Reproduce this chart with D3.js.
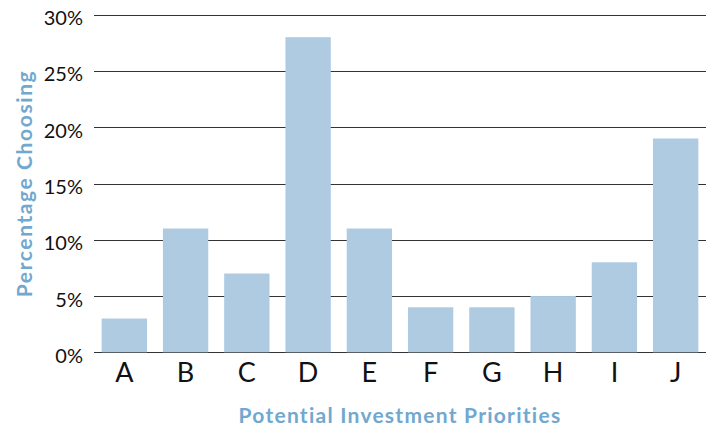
<!DOCTYPE html>
<html>
<head>
<meta charset="utf-8">
<script src="https://cdn.jsdelivr.net/npm/d3@7"></script>
<style>
	body { margin: 0; background: #fff; }
	text { font-family: Lato, "Open Sans", sans-serif; }
</style>
</head>
<body>
<div id="chart"></div>
<script>
var categories = ["A", "B", "C", "D", "E", "F", "G", "H", "I", "J"];
var percentages = [3, 11, 7, 28, 11, 4, 4, 5, 8, 19];
var tickValues = [0, 5, 10, 15, 20, 25, 30];

var width = 709,
	height = 426;

var margin = { top: 15, right: 3, bottom: 74, left: 94 };

var svg = d3.select("#chart")
	.append("svg")
	.attr("width", width)
	.attr("height", height);

var x = d3.scaleBand()
	.domain(categories)
	.range([margin.left, width - margin.right])
	.paddingInner(0.26)
	.paddingOuter(0.125);

var y = d3.scaleLinear()
	.domain([0, 30])
	.range([height - margin.bottom + 0.3, margin.top - 0.3]);

// gridlines
svg.append("g")
	.attr("class", "grid")
	.selectAll("line")
	.data(tickValues)
	.enter()
	.append("line")
	.attr("x1", margin.left)
	.attr("x2", width - margin.right)
	.attr("y1", (d) => Math.round(y(d)) + 0.5)
	.attr("y2", (d) => Math.round(y(d)) + 0.5)
	.attr("stroke", "#333")
	.attr("stroke-width", 1.2);

// y tick labels
var yAxis = svg.append("g")
	.attr("transform", "translate(" + (margin.left - 11) + ",0)")
	.call(d3.axisLeft(y).tickValues(tickValues).tickSize(0).tickFormat((d) => d + "%"));

yAxis.select(".domain").remove();
yAxis.selectAll("text")
	.attr("x", 0)
	.attr("dy", "0.5em")
	.style("font-size", "20px")
	.style("font-family", "Lato, sans-serif")
	.attr("fill", "#111");

// bars
svg.append("g")
	.attr("class", "bars")
	.selectAll(".bar")
	.data(percentages)
	.enter()
	.append("rect")
	.attr("class", "bar")
	.attr("x", (d, i) => x(categories[i]))
	.attr("y", (d) => y(d))
	.attr("width", x.bandwidth())
	.attr("height", (d) => y(0) - y(d))
	.attr("fill", "#aecbe2");

// x category labels
var xAxis = svg.append("g")
	.attr("transform", "translate(0," + y(0) + ")")
	.call(d3.axisBottom(x).tickSize(0));

xAxis.select(".domain").remove();
xAxis.selectAll("text")
	.attr("y", 11)
	.attr("dy", "0.71em")
	.style("font-size", "27px")
	.style("font-family", "Lato, sans-serif")
	.attr("fill", "#111");

// axis titles
svg.append("text")
	.attr("x", (margin.left + width - margin.right) / 2)
	.attr("y", 423)
	.attr("text-anchor", "middle")
	.attr("fill", "#71a8cf")
	.style("font-size", "21px")
	.style("font-weight", "bold")
	.style("letter-spacing", "1.25px")
	.text("Potential Investment Priorities");

svg.append("text")
	.attr("transform", "translate(32," + ((margin.top + height - margin.bottom) / 2) + ") rotate(-90)")
	.attr("text-anchor", "middle")
	.attr("fill", "#71a8cf")
	.style("font-size", "21px")
	.style("font-weight", "bold")
	.style("letter-spacing", "1.6px")
	.text("Percentage Choosing");
</script>
</body>
</html>
